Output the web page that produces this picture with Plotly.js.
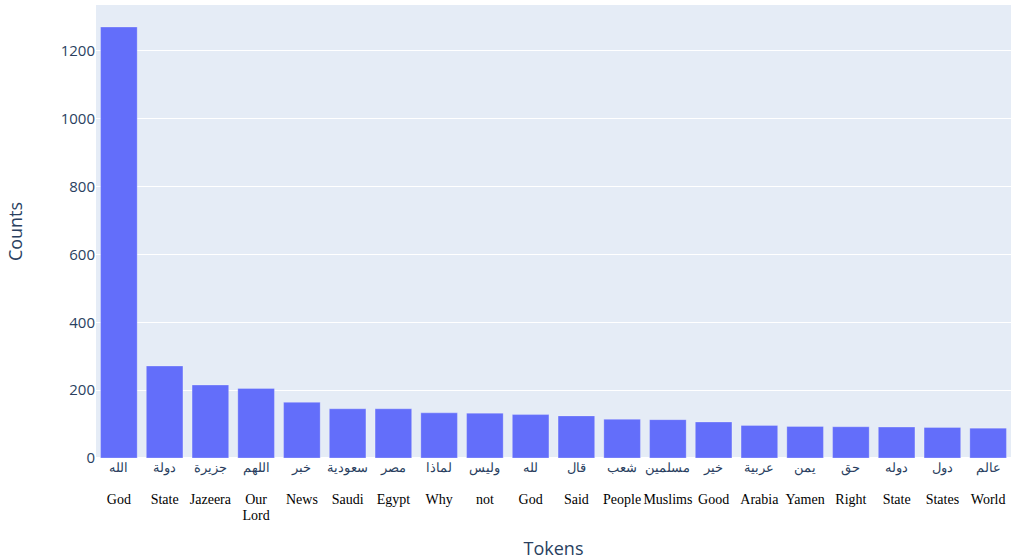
<!DOCTYPE html>
<html>
<head>
<meta charset="utf-8">
<script src="https://cdn.plot.ly/plotly-3.0.1.min.js"></script>
<style>body{margin:0;padding:0;}#chart{width:1011px;height:560px;}</style>
</head>
<body>
<div id="chart"></div>
<script>
const tokensArabic = ["الله","دولة","جزيرة","اللهم","خبر","سعودية","مصر","لماذا","وليس","لله","قال","شعب","مسلمين","خير","عربية","يمن","حق","دوله","دول","عالم"];
const tokensEnglish = ["God","State","Jazeera","Our<br>Lord","News","Saudi","Egypt","Why","not","God","Said","People","Muslims","Good","Arabia","Yamen","Right","State","States","World"];
const counts = [1270,271,215,205,164,145,145,133,132,128,124,114,113,106,96,93,92,91,90,88];

const tickText = tokensArabic.map((a, i) => {
  const en = tokensEnglish[i].split('<br>').map(s => '<span style="font-family:\'Liberation Serif\',serif;font-size:14px;fill:#000000">' + s + '</span>').join('<br>');
  return a + '<br><span style="font-size:4px"> </span><br>' + en;
});

Plotly.newPlot('chart', [{
  type: 'bar',
  x: tokensArabic,
  y: counts,
  marker: {color: '#636efa', line: {color: 'rgba(255,255,255,0.5)', width: 0.5}}
}], {
  width: 1011, height: 560,
  margin: {l: 96, r: 0, t: 5, b: 102},
  paper_bgcolor: '#ffffff',
  plot_bgcolor: '#e5ecf6',
  font: {family: '"Open Sans", Verdana, Arial, sans-serif', color: '#2a3f5f', size: 12},
  xaxis: {
    title: {text: 'Tokens', font: {size: 18}, standoff: 38},
    tickmode: 'array', tickvals: tokensArabic, ticktext: tickText,
    tickfont: {family: '"DejaVu Serif", "Liberation Serif", serif', size: 12.5},
    tickangle: 0, showgrid: false
  },
  yaxis: {
    title: {text: 'Counts', font: {size: 18}, standoff: 33},
    tickfont: {size: 15},
    gridcolor: '#ffffff', zeroline: true, zerolinecolor: '#ffffff', zerolinewidth: 2,
    range: [0, 1335]
  }
}, {displayModeBar: false});
</script>
</body>
</html>
